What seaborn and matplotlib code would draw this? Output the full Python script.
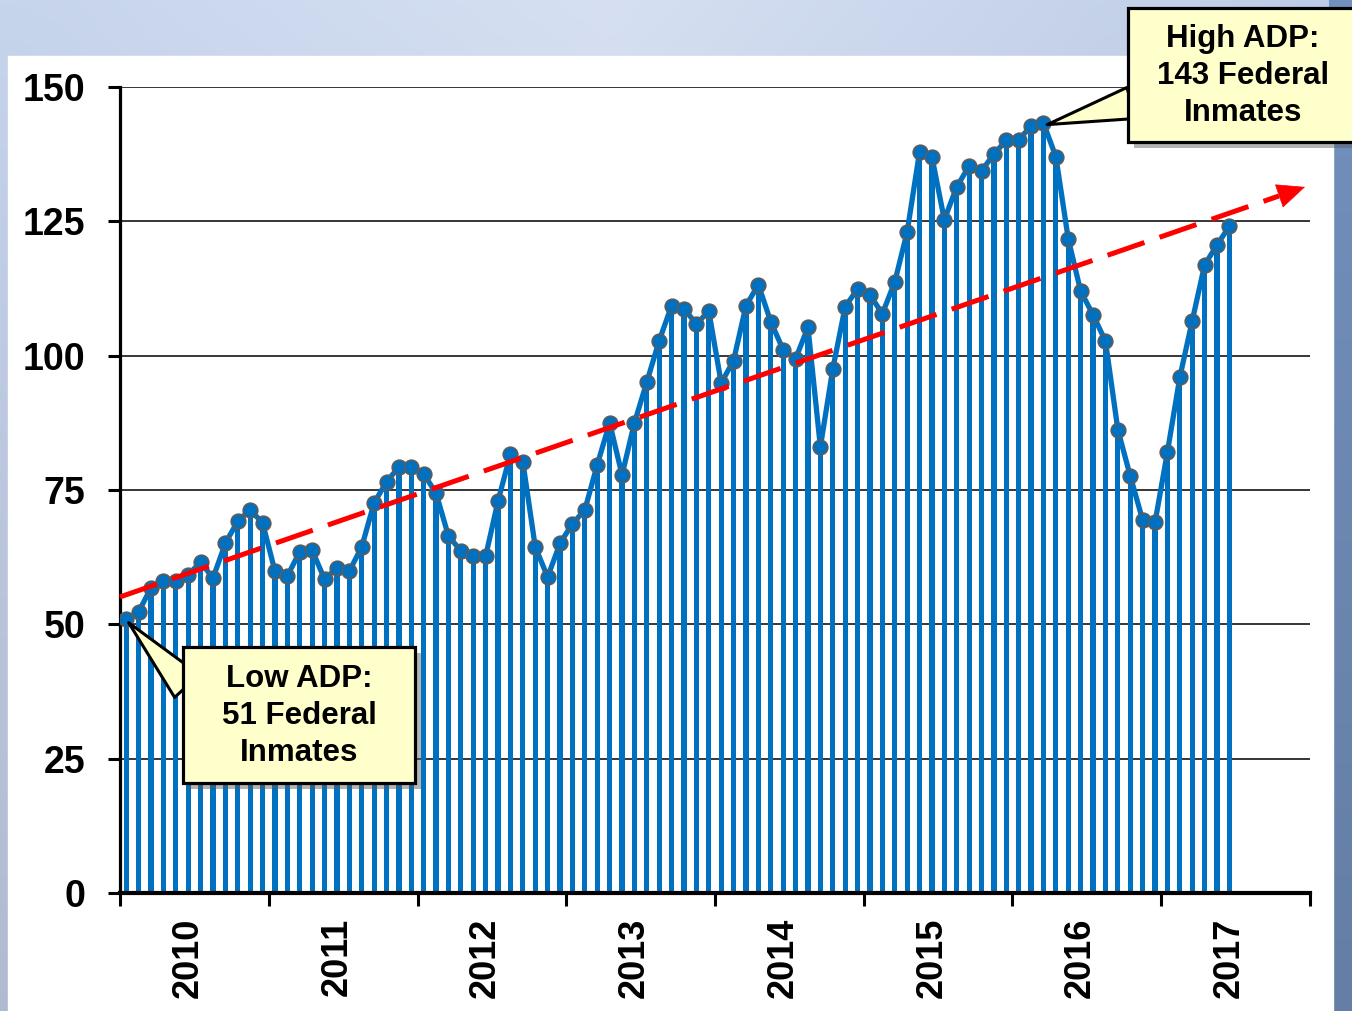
import numpy as np
import pandas as pd
import matplotlib
matplotlib.use("Agg")
import matplotlib.pyplot as plt
import matplotlib.patheffects as pe
from matplotlib.patches import Rectangle
import seaborn as sns

# ==========================================
# data: monthly federal inmate ADP, Jan 2010 - Jun 2017
# ==========================================
years = ["2010", "2011", "2012", "2013", "2014", "2015", "2016", "2017"]
adp = [51.0, 52.3, 56.8, 58.0, 58.0, 59.2, 61.6, 58.6, 65.1, 69.2, 71.3, 68.9,
       59.9, 59.0, 63.5, 63.8, 58.4, 60.5, 59.9, 64.4, 72.6, 76.5, 79.3, 79.3,
       78.0, 74.4, 66.4, 63.7, 62.7, 62.7, 73.0, 81.7, 80.2, 64.4, 58.8, 65.1,
       68.7, 71.3, 79.7, 87.5, 77.8, 87.5, 95.1, 102.8, 109.3, 108.7, 105.9, 108.3,
       94.9, 99.1, 109.3, 113.2, 106.3, 101.1, 99.4, 105.3, 83.0, 97.5, 109.1, 112.4,
       111.3, 107.8, 113.7, 123.0, 137.9, 137.0, 125.3, 131.4, 135.3, 134.4, 137.5, 140.1,
       140.1, 142.8, 143.3, 137.0, 121.7, 112.0, 107.6, 102.7, 86.2, 77.6, 69.4, 69.0,
       82.1, 96.0, 106.5, 116.9, 120.6, 124.1]
trend_x = [-0.5, 95.1]
trend_y = [55.1, 131.4]
low_text = "Low ADP:\n51 Federal\nInmates"
high_text = "High ADP:\n143 Federal\nInmates"

BLUE = "#0070C0"
YELLOW = "#FFFFCC"
W, H = 1352, 1011

df = pd.DataFrame({"month": np.arange(len(adp)), "adp": adp})

sns.set_theme(style="white")
plt.rcParams["font.family"] = ["Liberation Sans", "DejaVu Sans"]
plt.rcParams["text.color"] = "black"
plt.rcParams["xtick.color"] = "black"
plt.rcParams["ytick.color"] = "black"

fig = plt.figure(figsize=(W / 100, H / 100), dpi=100)

# background: blue gradient + white panel
bg = fig.add_axes([0, 0, 1, 1], zorder=-10)
xs = np.linspace(0, 1, 300)
ys = np.linspace(0, 1, 200)
c_left = np.array([198, 212, 236]) / 255
c_mid = np.array([214, 224, 242]) / 255
c_right = np.array([188, 203, 230]) / 255
t1 = np.clip(xs / 0.45, 0, 1)[:, None]
t2 = np.clip((xs - 0.45) / 0.55, 0, 1)[:, None]
row = np.where(xs[:, None] < 0.45, c_left * (1 - t1) + c_mid * t1,
               c_mid + (c_right - c_mid) * t2)
img = row[None, :, :] * (1 - 0.12 * ys[:, None, None])
strip = xs > 1333 / W
img[:, strip, :] = (np.array([100, 126, 165]) / 255)[None, None, :] * \
    (1 + 0.15 * (1 - ys))[:, None, None]
bg.imshow(np.clip(img, 0, 1), aspect="auto", extent=[0, 1, 0, 1], origin="upper")
bg.add_patch(Rectangle((8 / W, 0), (1333 - 8) / W, 1 - 56 / H, color="white"))
bg.set_xlim(0, 1); bg.set_ylim(0, 1)
bg.axis("off")

ax = fig.add_axes([120 / W, 1 - 893 / H, (1310 - 120) / W, (893 - 87) / H])
ax.set_facecolor("none")

# stems + line
sns.barplot(data=df, x="month", y="adp", color=BLUE, saturation=1,
            width=0.42, linewidth=0, ax=ax, zorder=2)
sns.lineplot(data=df, x="month", y="adp", color=BLUE, lw=3.8, marker="o",
             markersize=10.5, markerfacecolor=BLUE, markeredgecolor="#5c5c5c",
             markeredgewidth=1.2, ax=ax, zorder=3)

# trend line (dashed) + arrow head
f = 0.978
tx_end = trend_x[0] + (trend_x[1] - trend_x[0]) * f
ty_end = trend_y[0] + (trend_y[1] - trend_y[0]) * f
ax.plot([trend_x[0], tx_end], [trend_y[0], ty_end], color="red", lw=3.6,
        dashes=(7.8, 3.2), solid_capstyle="butt", zorder=4, clip_on=False)
ax.annotate("", xy=(trend_x[1], trend_y[1]), xytext=(tx_end, ty_end),
            arrowprops=dict(arrowstyle="-|>,head_length=0.95,head_width=0.42",
                            color="red", lw=0.5, mutation_scale=20,
                            shrinkA=0, shrinkB=0), zorder=4, annotation_clip=False)

# axes styling
ax.set_xlim(-0.5, 95.5)
ax.set_ylim(0, 150)
ax.set_yticks(np.arange(0, 151, 25))
ax.set_yticklabels([str(v) for v in range(0, 151, 25)], fontsize=27,
                   fontweight="bold", color="black")
ax.yaxis.grid(True, color="black", lw=1.1)
ax.xaxis.grid(False)
ax.set_axisbelow(True)
ax.set_xticks(np.arange(-0.5, 96, 12))
ax.set_xticklabels([])
ax.set_xticks(np.arange(5.0, 96, 12), minor=True)
ax.set_xticklabels(years, minor=True, rotation=90, fontsize=26,
                   fontweight="bold", color="black")
ax.tick_params(axis="x", which="major", length=9, width=2.2, color="black",
               direction="out", bottom=True)
ax.tick_params(axis="x", which="minor", length=0, pad=18, bottom=True)
ax.tick_params(axis="y", length=9, width=2.2, color="black", direction="out",
               left=True, pad=16)
ax.set_xlabel(""); ax.set_ylabel("")
for s in ["top", "right"]:
    ax.spines[s].set_visible(False)
ax.spines["left"].set_linewidth(2.3)
ax.spines["bottom"].set_linewidth(3.0)
ax.spines["left"].set_color("black")
ax.spines["bottom"].set_color("black")

# callouts
shadow = [pe.SimplePatchShadow(offset=(4, -4), shadow_rgbFace="0.35", alpha=0.45), pe.Normal()]
i_low = int(np.argmin(adp))
i_high = int(np.argmax(adp))

ax.annotate("", xy=(i_low + 0.2, adp[i_low] - 0.7), xytext=(187 / W, 1 - 686 / H),
            textcoords="figure fraction",
            arrowprops=dict(arrowstyle="wedge,tail_width=1.1,shrink_factor=0.5",
                            fc=YELLOW, ec="black", lw=2.2, mutation_scale=22,
                            shrinkA=0, shrinkB=0), zorder=6, annotation_clip=False)
ax.annotate("", xy=(i_high + 0.3, adp[i_high] - 0.3), xytext=(1131 / W, 1 - 103 / H),
            textcoords="figure fraction",
            arrowprops=dict(arrowstyle="wedge,tail_width=1.05,shrink_factor=0.5",
                            fc=YELLOW, ec="black", lw=2.2, mutation_scale=22,
                            shrinkA=0, shrinkB=0), zorder=6, annotation_clip=False)

low_box = Rectangle((183 / W, 1 - 783 / H), 232 / W, 136 / H, transform=fig.transFigure,
                    fc=YELLOW, ec="black", lw=2.3, zorder=5)
low_box.set_path_effects(shadow)
fig.add_artist(low_box)
high_box = Rectangle((1128 / W, 1 - 142 / H), 240 / W, 134 / H, transform=fig.transFigure,
                     fc=YELLOW, ec="black", lw=2.3, zorder=5)
high_box.set_path_effects(shadow)
fig.add_artist(high_box)

fig.text(299 / W, 1 - 716 / H, low_text, ha="center", va="center", fontsize=22.5,
         fontweight="bold", linespacing=1.3, zorder=6)
fig.text(1243 / W, 1 - 76 / H, high_text, ha="center", va="center", fontsize=22.5,
         fontweight="bold", linespacing=1.3, zorder=6)

fig.savefig("out.png", dpi=100)
